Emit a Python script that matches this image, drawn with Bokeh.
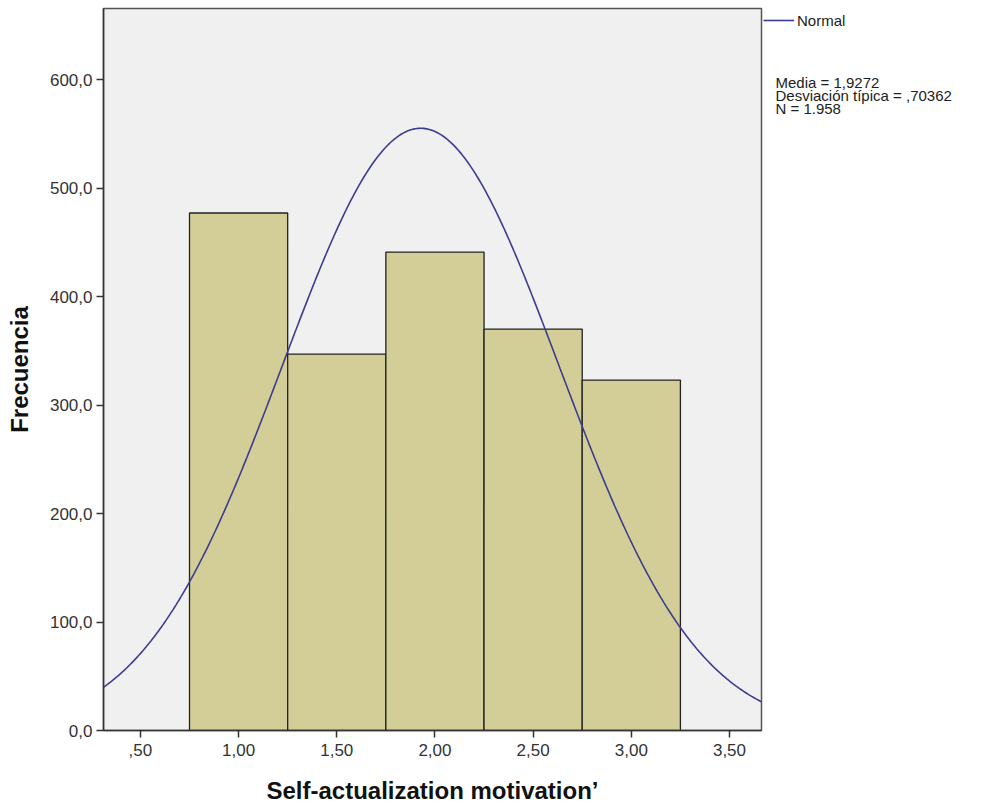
import numpy as np
from bokeh.plotting import figure
from bokeh.layouts import row
from bokeh.models import (FixedTicker, Range1d, Label, Legend, LegendItem,
                          ColumnDataSource)
from bokeh.embed import file_html
from bokeh.resources import INLINE

# ---- data ----
bin_left = [0.75, 1.25, 1.75, 2.25, 2.75]
bin_right = [1.25, 1.75, 2.25, 2.75, 3.25]
counts = [477, 347, 441, 370, 323]
mean = 1.9272
sd = 0.70362
n_obs = 1958
x_ticks = [0.5, 1.0, 1.5, 2.0, 2.5, 3.0, 3.5]
x_tick_labels = [",50", "1,00", "1,50", "2,00", "2,50", "3,00", "3,50"]
y_ticks = [0, 100, 200, 300, 400, 500, 600]
y_tick_labels = ["0,0", "100,0", "200,0", "300,0", "400,0", "500,0", "600,0"]
stats_lines = ["Media = 1,9272", "Desviación típica = ,70362", "N = 1.958"]

FONT = "Liberation Sans"
LINE_COLOR = "#3d3d8f"
X0, X1 = 0.312, 3.663
Y0, Y1 = 0.0, 665.5
H = 809

p = figure(frame_width=658, frame_height=722, output_backend="svg",
           toolbar_location=None,
           x_range=Range1d(X0, X1), y_range=Range1d(Y0, Y1),
           min_border_left=103, min_border_right=2,
           min_border_top=8, min_border_bottom=79)
p.background_fill_color = "#f0f0f0"
p.border_fill_color = "white"
p.outline_line_color = "#555555"
p.outline_line_width = 1.5
p.grid.visible = False

src = ColumnDataSource(dict(left=bin_left, right=bin_right, top=counts,
                            bottom=[0] * len(counts)))
p.quad(left="left", right="right", top="top", bottom="bottom", source=src,
       fill_color="#d3ce97", line_color="#222222", line_width=1.3)

bw = bin_right[0] - bin_left[0]
xs = np.linspace(X0, X1, 400)
ys = n_obs * bw * np.exp(-0.5 * ((xs - mean) / sd) ** 2) / (sd * np.sqrt(2 * np.pi))
p.line(xs, ys, line_color=LINE_COLOR, line_width=1.6)

for ax in (p.xaxis[0], p.yaxis[0]):
    ax.axis_line_color = "#333333"
    ax.axis_line_width = 1.5
    ax.major_tick_line_color = "#333333"
    ax.major_tick_line_width = 1.5
    ax.major_tick_in = 0
    ax.major_tick_out = 7
    ax.minor_tick_line_color = None
    ax.major_label_text_font = FONT
    ax.major_label_text_font_size = "17px"
    ax.major_label_text_color = "#333333"
    ax.axis_label_text_font = FONT
    ax.axis_label_text_font_style = "bold"
    ax.axis_label_text_font_size = "24px"
    ax.axis_label_text_color = "#111111"

p.xaxis.ticker = FixedTicker(ticks=x_ticks)
p.xaxis.major_label_overrides = dict(zip(x_ticks, x_tick_labels))
p.yaxis.ticker = FixedTicker(ticks=y_ticks)
p.yaxis.major_label_overrides = dict(zip(y_ticks, y_tick_labels))
p.xaxis.axis_label = "Self-actualization motivation’"
p.yaxis.axis_label = "Frecuencia"
p.xaxis.major_label_standoff = 6
p.yaxis.major_label_standoff = 4
p.xaxis.axis_label_standoff = 18
p.yaxis.axis_label_standoff = 14

# ---- side panel with legend and statistics ----
side = figure(width=225, height=H, output_backend="svg", toolbar_location=None,
              x_range=Range1d(0, 225), y_range=Range1d(0, H),
              min_border=0, min_border_left=0, min_border_right=0,
              min_border_top=0, min_border_bottom=0)
side.axis.visible = False
side.grid.visible = False
side.outline_line_color = None
side.background_fill_color = "white"
side.border_fill_color = "white"

# proxy renderer (no visible data) so the legend can show the line swatch
leg_line = side.line(x=[float("nan")], y=[float("nan")],
                     line_color=LINE_COLOR, line_width=1.6)
legend = Legend(items=[LegendItem(label="Normal", renderers=[leg_line])],
                location="top_left", orientation="vertical",
                border_line_color=None, background_fill_alpha=0,
                label_text_font=FONT, label_text_font_size="15px",
                label_text_color="#222222", glyph_width=31, glyph_height=24,
                label_height=24,
                label_standoff=3, padding=6, margin=0, spacing=0)
side.add_layout(legend, "center")

for i, t in enumerate(stats_lines):
    side.add_layout(Label(x=12, y=H - (83 + 14.5 * i), text=t,
                          text_font=FONT, text_font_size="15px",
                          text_color="#222222", text_baseline="alphabetic"))

layout = row(p, side, spacing=0)
open("out.html", "w").write(file_html(layout, INLINE))
